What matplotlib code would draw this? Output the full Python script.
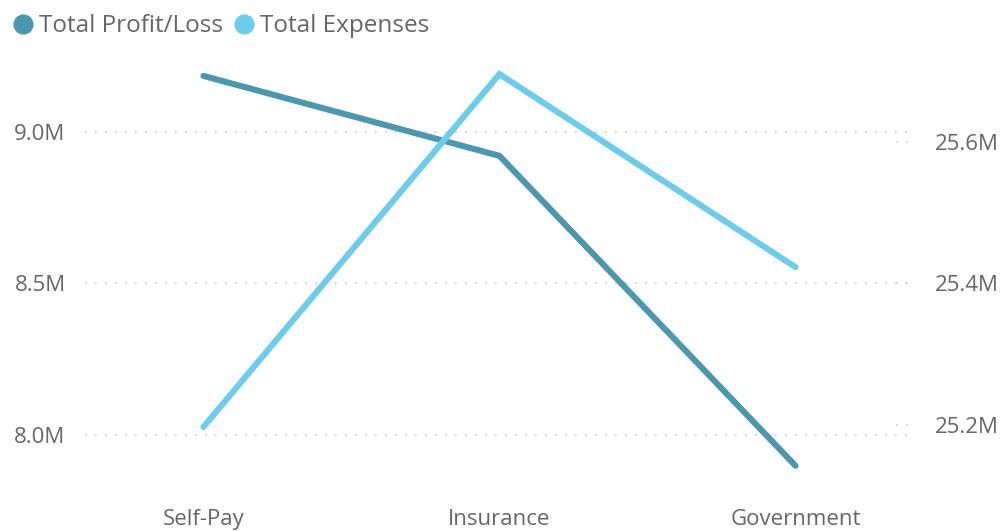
import matplotlib
matplotlib.use("Agg")
import matplotlib.pyplot as plt
from matplotlib.lines import Line2D

categories = ["Self-Pay", "Insurance", "Government"]
profit_loss = [9.185e6, 8.921e6, 7.898e6]
expenses = [25.197e6, 25.696e6, 25.423e6]
left_ticks = [8.0e6, 8.5e6, 9.0e6]
left_labels = ["8.0M", "8.5M", "9.0M"]
right_ticks = [25.2e6, 25.4e6, 25.6e6]
right_labels = ["25.2M", "25.4M", "25.6M"]

c_profit = "#4A98AF"
c_exp = "#6BCDEB"
txt = "#666666"
plt.rcParams['font.family'] = ['Open Sans', 'DejaVu Sans']

fig = plt.figure(figsize=(10.04, 5.31), dpi=100)
ax = fig.add_axes([85/1004, 1-490/531, (908-85)/1004, 435/531])
ax2 = ax.twinx()

x = list(range(len(categories)))
ax.plot(x, profit_loss, color=c_profit, lw=4.4, solid_capstyle='round', solid_joinstyle='miter', zorder=3)
ax2.plot(x, expenses, color=c_exp, lw=4.4, solid_capstyle='round', solid_joinstyle='miter', zorder=3)

ax.set_xlim(-0.40, 2.38)
ax.set_ylim(7.818e6, 9.254e6)
ax2.set_ylim(25.108e6, 25.723e6)

for a in (ax, ax2):
    for s in a.spines.values():
        s.set_visible(False)
    a.tick_params(length=0, labelsize=16, colors=txt)

ax.set_yticks(left_ticks)
ax.set_yticklabels(left_labels)
ax.tick_params(axis='y', pad=14)
ax2.set_yticks(right_ticks)
ax2.set_yticklabels(right_labels)
ax2.tick_params(axis='y', pad=19)
ax.set_xticks(x)
ax.set_xticklabels(categories)
ax.tick_params(axis='x', pad=14)

for t in left_ticks:
    ax.axhline(t, color="#C8C8C8", lw=1.2, ls=(0, (1, 5)), zorder=1)
for t in right_ticks:
    ax2.axhline(t, xmin=0.985, xmax=1.0, color="#C8C8C8", lw=1.2, ls=(0, (1, 5)), zorder=1)

ax2.set_zorder(ax.get_zorder() + 1)
ax.patch.set_visible(False)

handles = [Line2D([], [], ls='none', marker='o', ms=13.5, color=c_profit),
           Line2D([], [], ls='none', marker='o', ms=13.5, color=c_exp)]
fig.legend(handles, ["Total Profit/Loss", "Total Expenses"], loc='upper left',
           bbox_to_anchor=(-0.004, 1.005), ncol=2, frameon=False, fontsize=17.5,
           handlelength=0.8, handletextpad=0.25, columnspacing=0.5, labelcolor=txt,
           borderaxespad=0.3)

fig.savefig("out.png", dpi=100)
